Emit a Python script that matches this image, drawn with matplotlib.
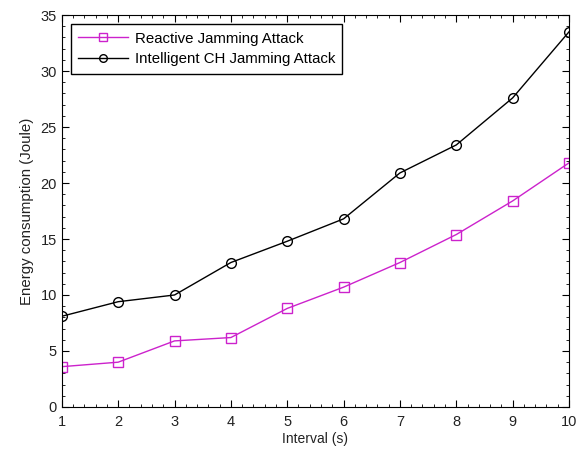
import matplotlib
matplotlib.use("Agg")
import matplotlib.pyplot as plt
from matplotlib.ticker import MultipleLocator

plt.rcParams['font.family'] = ['Liberation Sans', 'DejaVu Sans']

intervals = [1, 2, 3, 4, 5, 6, 7, 8, 9, 10]
reactive = [3.6, 4.0, 5.9, 6.2, 8.8, 10.7, 12.9, 15.4, 18.4, 21.8]
intelligent = [8.1, 9.4, 10.0, 12.9, 14.8, 16.8, 20.9, 23.4, 27.6, 33.5]
labels = ["Reactive Jamming Attack", "Intelligent CH Jamming Attack"]

fig = plt.figure(figsize=(5.83, 4.5), dpi=100)
ax = fig.add_axes([0.106, 0.0956, 0.870, 0.871])

ax.plot(intervals, reactive, color='#CC22CC', marker='s', markersize=7,
        markerfacecolor='none', markeredgecolor='#CC22CC', linewidth=1, label=labels[0])
ax.plot(intervals, intelligent, color='black', marker='o', markersize=7,
        markerfacecolor='none', markeredgecolor='black', linewidth=1, label=labels[1])

ax.set_xlim(1, 10)
ax.set_ylim(0, 35)
ax.xaxis.set_major_locator(MultipleLocator(1))
ax.xaxis.set_minor_locator(MultipleLocator(0.2))
ax.yaxis.set_major_locator(MultipleLocator(5))
ax.yaxis.set_minor_locator(MultipleLocator(1))
ax.tick_params(which='both', direction='in', top=True, right=True, labelsize=10.5,
               colors='black', labelcolor='#222222')
ax.tick_params(which='major', length=5)
ax.tick_params(which='minor', length=2.5)
ax.tick_params(axis='x', which='major', pad=6)

ax.set_xlabel("Interval (s)", fontsize=10, labelpad=2, color='#222222')
ax.set_ylabel("Energy consumption (Joule)", fontsize=10.8, labelpad=5, color='#222222')

leg = ax.legend(loc='upper left', fontsize=10.8, fancybox=False, framealpha=1,
                edgecolor='black', borderaxespad=0.6, handlelength=3.3,
                handletextpad=0.45, borderpad=0.5, labelspacing=0.45)
leg.get_frame().set_linewidth(1)
for h in leg.legend_handles:
    h.set_markersize(5.5)

fig.savefig("out.png", dpi=100)
